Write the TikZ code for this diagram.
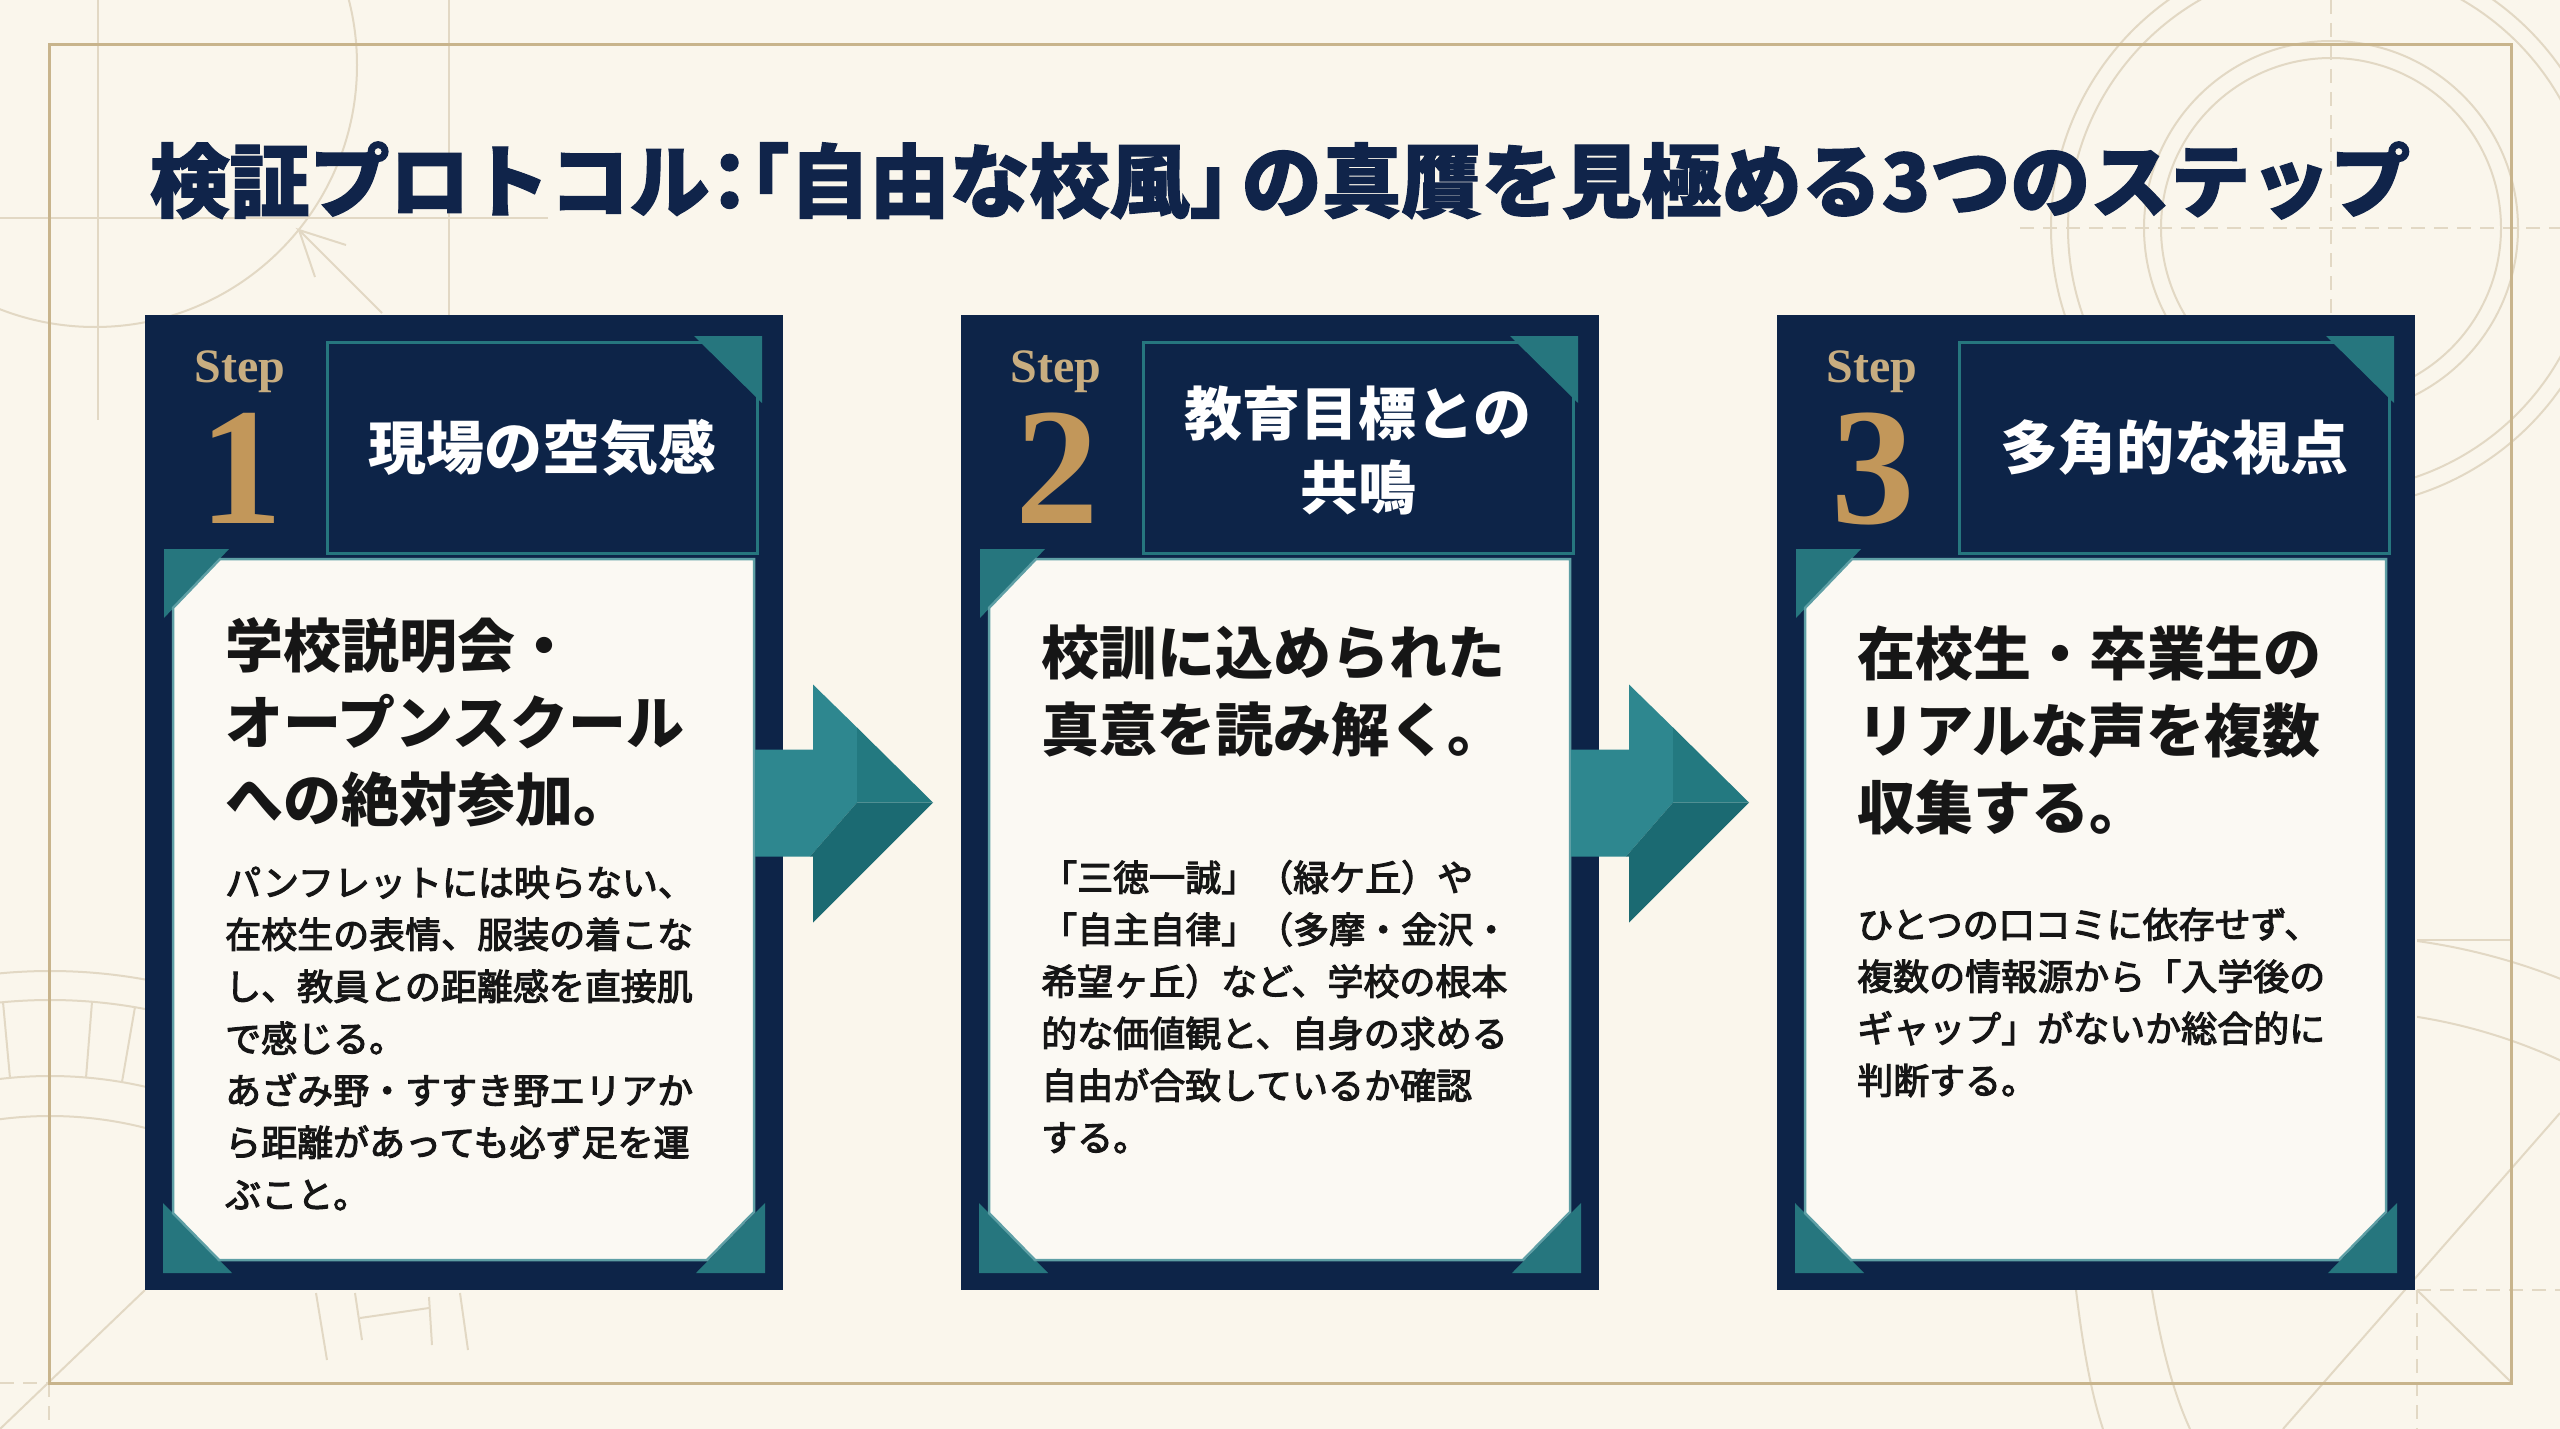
\documentclass[tikz,border=0pt]{standalone}
\usepackage{fontspec}
\setmainfont{Liberation Serif}
\newfontfamily\jp{Noto Sans CJK JP}
\newfontfamily\jptitle[BoldFeatures={FakeBold=1.5}]{Noto Sans CJK JP}
\newfontfamily\jpbody[FakeBold=3]{Noto Sans CJK JP}
\usetikzlibrary{calc}
\definecolor{bgc}{HTML}{FAF6EC}
\definecolor{navy}{HTML}{0D2448}
\definecolor{titlec}{HTML}{10244A}
\definecolor{tealc}{HTML}{26767E}
\definecolor{panelc}{HTML}{FBF9F3}
\definecolor{paneledge}{HTML}{5E9FA5}
\definecolor{goldf}{HTML}{C8B48C}
\definecolor{deco}{HTML}{E2D8C4}
\definecolor{stepc}{HTML}{C8AD80}
\definecolor{numc}{HTML}{C2975A}
\definecolor{arrL}{HTML}{2E878F}
\definecolor{arrM}{HTML}{237980}
\definecolor{arrD}{HTML}{1B6A72}
\definecolor{ink}{HTML}{161616}
\tikzset{
  cardbg/.style={fill=navy, minimum width=638pt, minimum height=975pt, inner sep=0pt, outer sep=0pt, anchor=north west},
  steplbl/.style={text=stepc, font=\fontsize{48}{48}\selectfont\bfseries, anchor=base, inner sep=0pt},
  stepnum/.style={text=numc, font=\fontsize{167}{167}\selectfont\bfseries, anchor=base, inner sep=0pt},
  hdtext/.style={text=white, font=\jp\bfseries\fontsize{58}{58}\selectfont, anchor=base, inner sep=0pt},
  headtx/.style={text=ink, font=\jp\bfseries\fontsize{58}{58}\selectfont, anchor=base west, inner sep=0pt},
  bodytx/.style={text=ink, font=\jpbody\fontsize{36}{36}\selectfont, anchor=base west, inner sep=0pt},
  titletx/.style={text=titlec, font=\jptitle\bfseries\fontsize{80}{80}\selectfont, anchor=base, inner sep=0pt},
  decoline/.style={draw=deco, line width=2pt},
  decodash/.style={draw=deco, line width=2pt, dash pattern=on 14pt off 9pt},
  tealtri/.style={fill=tealc},
  panelbox/.style={fill=panelc, draw=paneledge, line width=2.5pt},
  hdbox/.style={draw=tealc, line width=3pt},
}
% #1 name, #2 x, #3 digit, #4 header first baseline, #5 header lines,
% #6 heading first baseline, #7 heading lines, #8 body first baseline, #9 body lines
\newcommand\stepcard[9]{%
\begin{scope}[shift={(#2,315)}]
  \node[cardbg] (#1) at (0,0) {};
  \fill[tealtri] (19,234) -- (84,234) -- (19,303) -- cycle;
  \fill[tealtri] (18,888) -- (18,958) -- (87,958) -- cycle;
  \fill[tealtri] (620,888) -- (620,958) -- (551,958) -- cycle;
  \draw[hdbox] (182,27) rectangle (612,238);
  \fill[tealtri] (549,21) -- (617,21) -- (617,88) -- cycle;
  \path[panelbox] (28,293) -- (75,244) -- (609,244) -- (609,897) -- (562,945) -- (74,945) -- (28,898) -- cycle;
  \node[steplbl] (#1s) at (95,67) {Step};
  \node[stepnum] (#1n) at (96,208) {#3};
  \foreach \t [count=\i] in {#5} \node[hdtext] (#1t\i) at (397,{#4+74*(\i-1)}) {\t};
  \foreach \t [count=\i] in {#7} \node[headtx] (#1h\i) at (80,{#6+77*(\i-1)}) {\t};
  \foreach \t [count=\i] in {#9} \node[bodytx] (#1b\i) at (80,{#8+52*(\i-1)}) {\t};
\end{scope}}
\newcommand\flowarrow[1]{%
\begin{scope}[shift={(#1.east)}]
  \fill[arrL] (-28,-53) -- (30,-53) -- (30,-118) -- (74,-75) -- (74,0) -- (27,54) -- (-28,54) -- cycle;
  \fill[arrM] (74,-75) -- (150,0) -- (74,0) -- cycle;
  \fill[arrD] (27,54) -- (74,0) -- (150,0) -- (30,120) -- (30,54) -- cycle;
\end{scope}}
\begin{document}
\begin{tikzpicture}[x=1pt, y=-1pt]
\fill[bgc] (0,0) rectangle (2560,1429);
\useasboundingbox (0,0) rectangle (2560,1429);
% background decorations
\begin{scope}
  \clip (0,0) rectangle (2560,1429);
  \draw[decoline] (98,0) -- (98,420);
  \draw[decoline] (449,0) -- (449,315);
  \draw[decoline] (0,218) -- (548,218);
  \draw[decoline] (95,65) circle[radius=262];
  \draw[decoline] (382,313) -- (299,230) -- (346,245);
  \draw[decoline] (299,230) -- (315,277);
  \foreach \r in {170,187,263,280} \draw[decoline] (2331,228) circle[radius=\r];
  \draw[decodash] (2331,0) -- (2331,330);
  \draw[decodash] (2020,228) -- (2560,228);
  \begin{scope}
    \clip (0,900) rectangle (145,1300);
    \foreach \r in {529,500,424,384} \draw[decoline] (50,1500) circle[radius=\r];
  \end{scope}
  \draw[decoline] (3,1002) -- (10,1078);
  \draw[decoline] (92,1002) -- (86,1078);
  \draw[decoline] (135,1007) -- (122,1082);
  \draw[decoline] (145,1290) -- (0,1429);
  \draw[decodash] (0,1383) -- (49,1383);
  \draw[decodash] (49,1383) -- (49,1429);
  \draw[decoline] (316,1293) -- (327,1360);
  \draw[decoline] (355,1293) -- (362,1340);
  \draw[decoline] (429,1297) -- (432,1345);
  \draw[decoline] (460,1293) -- (468,1350);
  \draw[decoline] (360,1318) -- (429,1308);
  \draw[decoline] (2076,1290) .. controls (2082,1340) and (2090,1390) .. (2103,1429);
  \draw[decoline] (2152,1290) .. controls (2160,1340) and (2172,1390) .. (2190,1429);
  \begin{scope}
    \clip (2417,800) rectangle (2560,1429);
    \draw[decoline] (2330,1560) circle[radius=550];
    \draw[decoline] (2330,1560) circle[radius=625];
  \end{scope}
  \draw[decoline] (2417,940) -- (2512,940);
  \draw[decodash] (2417,1290) -- (2560,1290);
  \draw[decodash] (2417,1290) -- (2417,1429);
  \draw[decoline] (2417,1290) -- (2512,1383);
  \draw[decoline] (2283,1429) -- (2560,1113);
\end{scope}
% gold frame
\draw[draw=goldf, line width=3pt] (49,45) rectangle (2511,1383);
% title
\node[titletx] (title) at (1280,211) {検証プロトコル\kern-0.25em：\kern-0.25em\kern-0.5em「自由な校風」\kern-0.35em の真贋を見極める3つのステップ};
% cards
\stepcard{card1}{145}{1}{154}{現場の空気感}{352}{学校説明会・,オープンスクール,への絶対参加。}{581}{パンフレットには映らない、,在校生の表情、服装の着こな,し、教員との距離感を直接肌,で感じる。,あざみ野・すすき野エリアか,ら距離があっても必ず足を運,ぶこと。}
\stepcard{card2}{961}{2}{120}{教育目標との,共鳴}{359}{校訓に込められた,真意を読み解く。}{576}{「三徳一誠」（緑ケ丘）や,「自主自律」（多摩・金沢・,希望ヶ丘）など、学校の根本,的な価値観と、自身の求める,自由が合致しているか確認,する。}
\stepcard{card3}{1777}{3}{154}{多角的な視点}{360}{在校生・卒業生の,リアルな声を複数,収集する。}{623}{ひとつの口コミに依存せず、,複数の情報源から「入学後の,ギャップ」がないか総合的に,判断する。}
% arrows
\flowarrow{card1}
\flowarrow{card2}
\end{tikzpicture}
\end{document}
